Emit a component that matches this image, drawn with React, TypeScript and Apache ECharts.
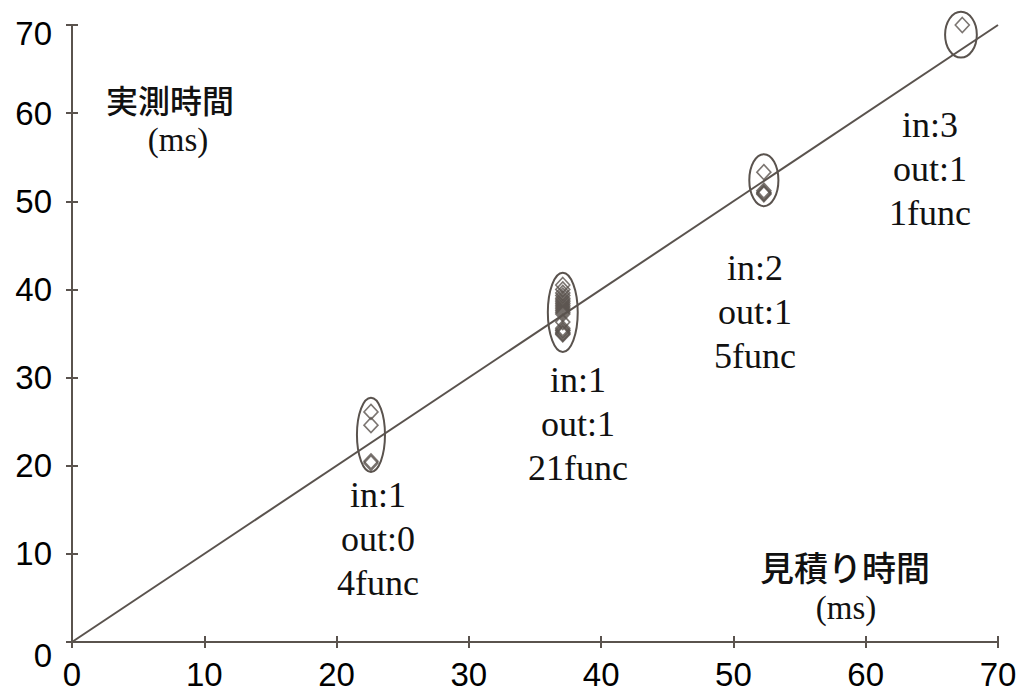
import React, { useEffect, useRef } from "react";
import * as echarts from "echarts";

const xTicks = [0, 10, 20, 30, 40, 50, 60, 70];
const yTicks = [0, 10, 20, 30, 40, 50, 60, 70];

// measured points: [estimated, actual]
const group1 = [[22.6, 26.1], [22.6, 24.6], [22.6, 20.5], [22.6, 20.3]];
const group2Y = [40.5, 40.0, 39.6, 39.3, 39.0, 38.8, 38.6, 38.4, 38.2, 38.0, 37.8, 37.6, 37.4, 37.2, 36.3, 35.6, 35.4, 35.3, 35.1, 35.0, 34.9];
const group2 = group2Y.map((y) => [37.1, y]);
const group3 = [[52.3, 53.3], [52.3, 51.2], [52.3, 51.0], [52.3, 50.9], [52.3, 50.8]];
const group4 = [[67.3, 70.0]];

// ellipses: [cx, cy, rx, ry] in data units
const ellipses = [
  [22.6, 23.5, 1.06, 4.2],
  [37.1, 37.4, 1.13, 4.5],
  [52.3, 52.4, 1.1, 2.95],
  [67.2, 68.9, 1.2, 2.6],
];

const identityLine = [[0, 0], [70, 70]];

const annotations = [
  { lines: ["in:1", "out:0", "4func"], x: 378, y: 495 },
  { lines: ["in:1", "out:1", "21func"], x: 578, y: 380 },
  { lines: ["in:2", "out:1", "5func"], x: 755, y: 268 },
  { lines: ["in:3", "out:1", "1func"], x: 930, y: 125 },
];

const C = "#5a534e";
const SERIF = "'Liberation Serif', 'Times New Roman', serif";
const CJK = "'Noto Sans CJK JP', sans-serif";

export default function App() {
  const ref = useRef<HTMLDivElement>(null);
  useEffect(() => {
    const chart = echarts.init(ref.current!, null, { renderer: "svg" });
    const scatterStyle = {
      type: "scatter",
      symbol: "diamond",
      symbolSize: [14, 15],
      itemStyle: { color: "rgba(255,255,255,0)", borderColor: C, borderWidth: 1.6 },
      silent: true,
    };
    const graphics: any[] = [];
    annotations.forEach((a) => {
      a.lines.forEach((t, i) => {
        graphics.push({
          type: "text",
          x: a.x,
          y: a.y + i * 44,
          style: {
            text: t,
            font: `36px ${SERIF}`,
            fill: "#111",
            textAlign: "center",
            textVerticalAlign: "middle",
          },
        });
      });
    });
    graphics.push(
      { type: "text", x: 170, y: 99, style: { text: "実測時間", font: `500 32px ${CJK}`, fill: "#111", textAlign: "center", textVerticalAlign: "middle" } },
      { type: "text", x: 178, y: 140, style: { text: "(ms)", font: `33px ${SERIF}`, fill: "#111", textAlign: "center", textVerticalAlign: "middle" } },
      { type: "text", x: 845, y: 566, style: { text: "見積り時間", font: `500 34px ${CJK}`, fill: "#111", textAlign: "center", textVerticalAlign: "middle" } },
      { type: "text", x: 846, y: 608, style: { text: "(ms)", font: `33px ${SERIF}`, fill: "#111", textAlign: "center", textVerticalAlign: "middle" } }
    );
    const axisCommon = {
      type: "value",
      min: 0,
      max: 70,
      interval: 10,
      axisLine: { show: true, lineStyle: { color: C, width: 2 } },
      axisTick: { show: true, inside: true, length: 6, lineStyle: { color: C, width: 2 } },
      splitLine: { show: false },
    };
    const labelFont = { color: "#000", fontSize: 33, fontFamily: "'Liberation Sans', Arial, sans-serif" };
    chart.setOption({
      animation: false,
      grid: { left: 72, top: 25, width: 926, height: 617, show: false },
      xAxis: [
        { ...axisCommon, position: "bottom", axisLabel: { ...labelFont, margin: 16, formatter: (v: number) => String(v) } },
        { ...axisCommon, position: "top", axisLabel: { show: false } },
      ],
      yAxis: [
        {
          ...axisCommon,
          position: "left",
          axisLabel: {
            ...labelFont,
            margin: 20,
            formatter: (v: number) => (v === 0 ? "{lo|0}" : v === 70 ? "{hi|70}" : String(v)),
            rich: {
              lo: { ...labelFont, padding: [26, 0, 0, 0] },
              hi: { ...labelFont, padding: [16, 0, 0, 0] },
            },
          },
        },
        { ...axisCommon, position: "right", axisLabel: { show: false } },
      ],
      series: [
        { type: "line", data: identityLine, symbol: "none", lineStyle: { color: C, width: 2 }, silent: true },
        { ...scatterStyle, data: group1 },
        { ...scatterStyle, data: group2 },
        { ...scatterStyle, data: group3 },
        { ...scatterStyle, data: group4 },
        {
          type: "custom",
          data: ellipses,
          silent: true,
          renderItem: (params: any, api: any) => {
            const c = api.coord([api.value(0), api.value(1)]);
            const s = api.size([api.value(2), api.value(3)]);
            return {
              type: "ellipse",
              shape: { cx: c[0], cy: c[1], rx: s[0], ry: s[1] },
              style: { fill: "none", stroke: C, lineWidth: 2 },
            };
          },
        },
      ],
      graphic: graphics,
    });
    return () => chart.dispose();
  }, []);
  return <div ref={ref} style={{ width: 1023, height: 698, position: "absolute", left: 0, top: 0 }} />;
}
